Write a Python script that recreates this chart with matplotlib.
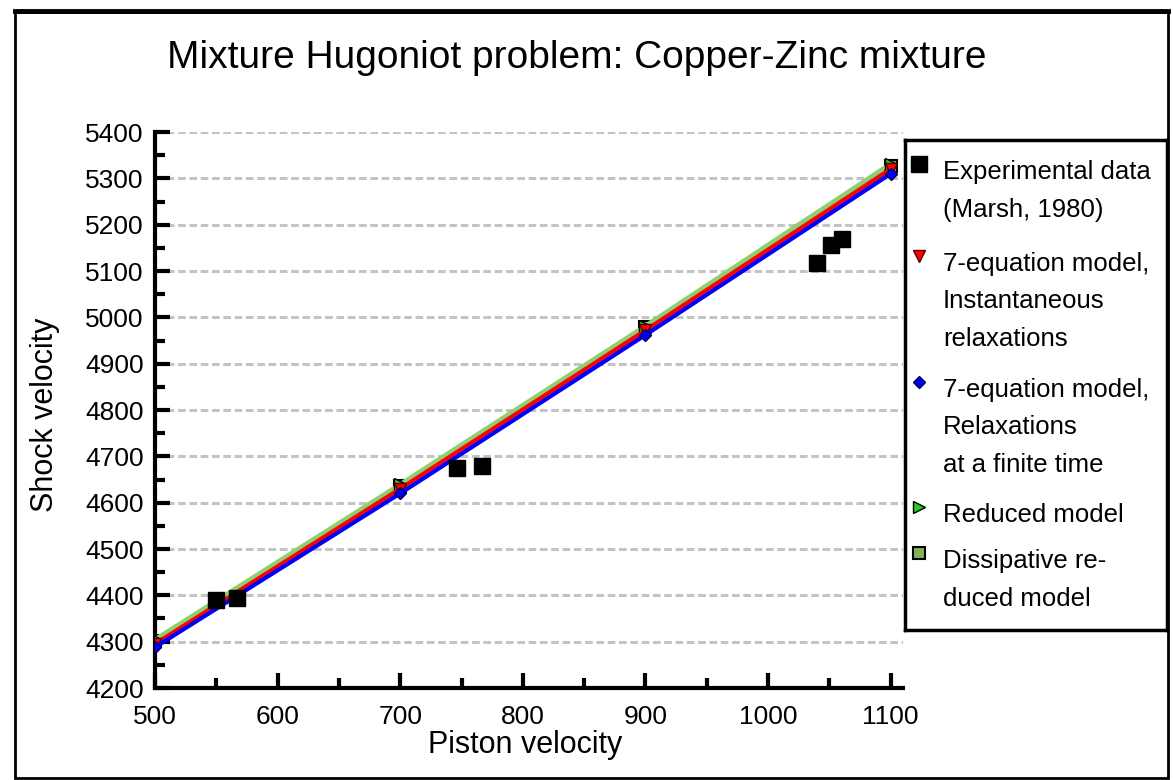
import numpy as np
import matplotlib
matplotlib.use("Agg")
import matplotlib.pyplot as plt
from matplotlib.patches import Rectangle

plt.rcParams['font.family'] = ['Liberation Sans', 'DejaVu Sans']

# Experimental data (Marsh, 1980)
exp_piston = [550, 567, 746, 767, 1040, 1051, 1060]
exp_shock = [4390, 4394, 4675, 4679, 5117, 5156, 5168]

# Model results at the computed piston velocities
model_piston = [500, 700, 900, 1100]
shock_instant = [4295, 4630, 4972, 5320]      # 7-equation, instantaneous relaxations
shock_finite = [4288, 4620, 4962, 5310]       # 7-equation, finite-time relaxations
shock_reduced = [4305, 4640, 4982, 5332]      # reduced model
shock_dissip = [4301, 4636, 4980, 5327]       # dissipative reduced model

fig = plt.figure(figsize=(11.73, 7.80), dpi=100)
ax = fig.add_axes([155 / 1173, 1 - 688 / 780, (903 - 155) / 1173, (688 - 132) / 780])

# model curves, drawn so that green sits above red above blue
ax.plot(model_piston, shock_dissip, color='#7fb25a', lw=3, marker='s', ms=9,
        mfc='#7fb25a', mec='black', mew=1.5, zorder=3)
ax.plot(model_piston, shock_reduced, color='#8fcf6f', lw=3, marker='>', ms=8,
        mfc='#22cc22', mec='black', mew=1, zorder=3)
ax.plot(model_piston, shock_instant, color='red', lw=3, marker='v', ms=8,
        mfc='red', mec='#550000', mew=1, zorder=4)
ax.plot(model_piston, shock_finite, color='blue', lw=3, marker='D', ms=6,
        mfc='blue', mec='#000055', mew=1, zorder=4)
ax.plot(exp_piston, exp_shock, ls='none', marker='s', ms=12, color='black', zorder=5)

ax.set_xlim(500, 1110)
ax.set_ylim(4200, 5400)
ax.set_xticks(np.arange(500, 1101, 100))
ax.set_xticks(np.arange(550, 1101, 100), minor=True)
ax.set_yticks(np.arange(4200, 5401, 100))
ax.set_yticks(np.arange(4250, 5400, 100), minor=True)

ax.yaxis.grid(True, color='#c4c4c4', lw=2.2, ls=(0, (2.5, 1.2)))
ax.set_axisbelow(True)
for side in ['top', 'right']:
    ax.spines[side].set_visible(False)
for side in ['left', 'bottom']:
    ax.spines[side].set_linewidth(3)
ax.tick_params(which='major', direction='in', length=11, width=3, labelsize=19)
ax.tick_params(which='minor', direction='in', length=7, width=3)
ax.tick_params(axis='y', pad=8)
ax.tick_params(axis='x', pad=12)

fig.text(0.492, 0.925, 'Mixture Hugoniot problem: Copper-Zinc mixture',
         ha='center', va='center', fontsize=28)
fig.text(45 / 1173, 1 - 415 / 780, 'Shock velocity', rotation=90,
         ha='center', va='center', fontsize=22)
fig.text(525 / 1173, 1 - 745 / 780, 'Piston velocity',
         ha='center', va='center', fontsize=22)

# outer frame, heavier along the top
fig.patches.append(Rectangle((15 / 1173, 2 / 780), 1153 / 1173, 766 / 780,
                             transform=fig.transFigure, fill=False,
                             edgecolor='black', lw=2))
fig.add_artist(plt.Line2D([15 / 1173, 1168 / 1173], [1 - 11 / 780] * 2,
                          transform=fig.transFigure, color='black', lw=3.5))

# legend box with entries whose key sits on the first text line
leg = fig.add_axes([905 / 1173, 1 - 630 / 780, (1167 - 905) / 1173, (630 - 140) / 780])
leg.set_xlim(0, 262)
leg.set_ylim(490, 0)
leg.set_xticks([])
leg.set_yticks([])
for s in leg.spines.values():
    s.set_linewidth(2.5)

entries = [
    (dict(marker='s', ms=12, color='black', mec='black'), 24,
     ['Experimental data', '(Marsh, 1980)']),
    (dict(marker='v', ms=8, color='red', mec='#550000'), 116,
     ['7-equation model,', 'Instantaneous', 'relaxations']),
    (dict(marker='D', ms=6, color='blue', mec='#000055'), 242,
     ['7-equation model,', 'Relaxations', 'at a finite time']),
    (dict(marker='>', ms=8, color='#22cc22', mec='black'), 367,
     ['Reduced model']),
    (dict(marker='s', ms=9, color='#7fb25a', mec='black', mew=1.5), 413,
     ['Dissipative re-', 'duced model']),
]
for style, top, lines in entries:
    leg.plot([14], [top], ls='none', **style)
    for i, line in enumerate(lines):
        leg.text(38, top + 8 + i * 37.5, line, fontsize=18.5, ha='left', va='center')

fig.savefig('out.png', dpi=100)
